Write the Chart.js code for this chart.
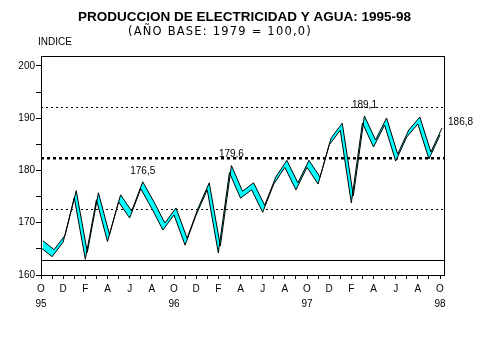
<!DOCTYPE html>
<html>
<head>
<meta charset="utf-8">
<script src="https://cdn.jsdelivr.net/npm/chart.js@4/dist/chart.umd.min.js"></script>
<style>
  html, body { margin: 0; padding: 0; background: #fff; }
  #wrap { width: 479px; height: 359px; }
</style>
</head>
<body>
<div id="wrap"><canvas id="chart" width="479" height="359"></canvas></div>
<script>
// month index 0 = Oct 1995 ... 36 = Oct 1998
const monthLabels = ['O','','D','','F','','A','','J','','A','',
                     'O','','D','','F','','A','','J','','A','',
                     'O','','D','','F','','A','','J','','A','','O'];
const yearLabels = ['95','96','97','98'];   // under each October
const values = [165.2, 163.5, 166.3, 174.8, 163.0, 174.4, 166.4, 174.0, 170.9, 176.5,
                172.7, 168.6, 171.5, 165.7, 171.5, 176.3, 164.2, 179.6, 174.7, 176.3,
                172.0, 177.4, 180.6, 176.3, 180.6, 177.4, 184.9, 187.7, 173.8, 189.1,
                184.5, 188.7, 181.8, 186.4, 188.9, 182.2, 186.8];
const labelled = [9, 17, 29, 36];
const yTicks = [160, 165, 170, 175, 180, 185, 190, 195, 200];
const wallTicks = [160, 170, 180, 190, 200];

const FONT = '"Liberation Sans", Arial, sans-serif';
Chart.defaults.font.family = FONT;
Chart.defaults.color = '#000';

const pts = values.map((v, i) => ({ x: i, y: v }));

// subtitle, "INDICE" and value labels
const textPlugin = {
  id: 'texts',
  afterDatasetsDraw(chart) {
    const c = chart.ctx;
    const xs = chart.scales.x, ys = chart.scales.y;
    c.save();
    c.fillStyle = '#000';
    c.textBaseline = 'middle';
    c.textAlign = 'center';
    c.font = '11.5px "DejaVu Sans", sans-serif';
    if ('letterSpacing' in c) c.letterSpacing = '1.2px';
    c.fillText('(AÑO BASE: 1979 = 100,0)', 220, 32);
    if ('letterSpacing' in c) c.letterSpacing = '0px';
    c.font = '10px ' + FONT;
    c.textAlign = 'left';
    c.fillText('INDICE', 38, 42);
    labelled.forEach(i => {
      const txt = values[i].toFixed(1).replace('.', ',');
      const px = xs.getPixelForValue(i), py = ys.getPixelForValue(values[i]);
      if (i === values.length - 1) {
        c.textAlign = 'left';
        c.fillText(txt, px + 8, py - 13);
      } else {
        c.textAlign = 'center';
        c.fillText(txt, px + 2, py - 18);
      }
    });
    c.restore();
  }
};

new Chart(document.getElementById('chart'), {
  type: 'line',
  data: {
    datasets: [
      {
        label: 'back',
        data: pts,
        xAxisID: 'xr',
        yAxisID: 'yr',
        borderColor: '#000',
        borderWidth: 1,
        pointRadius: 0,
        tension: 0,
        fill: false
      },
      {
        label: 'front',
        data: pts,
        xAxisID: 'x',
        yAxisID: 'y',
        borderColor: '#000',
        borderWidth: 1,
        pointRadius: 0,
        tension: 0,
        fill: '-1',
        backgroundColor: '#00ffff'
      }
    ]
  },
  options: {
    responsive: false,
    animation: false,
    layout: { padding: { left: 10, right: 0, top: 0, bottom: 0 } },
    plugins: {
      legend: { display: false },
      tooltip: { enabled: false },
      title: {
        display: true,
        text: 'PRODUCCION DE ELECTRICIDAD Y AGUA: 1995-98',
        font: { size: 13.5, weight: 'bold', lineHeight: 1.2 },
        color: '#000',
        padding: { top: 9, bottom: 30.8 }
      }
    },
    scales: {
      x: {
        type: 'linear',
        position: 'bottom',
        min: 0,
        max: 36.36,
        afterBuildTicks: s => { s.ticks = monthLabels.map((l, i) => ({ value: i })); },
        afterFit: s => { s.height = 84; },
        grid: { drawOnChartArea: false, tickLength: 4, color: '#000' },
        border: { color: '#000', width: 1 },
        ticks: {
          autoSkip: false,
          maxRotation: 0,
          padding: 3,
          font: { size: 10, lineHeight: 1.45 },
          callback: (v) => {
            const l = monthLabels[v];
            if (v % 12 === 0) return [l, yearLabels[v / 12]];
            return l;
          }
        }
      },
      // top edge of the box
      xt: {
        type: 'linear',
        position: 'top',
        min: 0,
        max: 36.36,
        afterFit: s => { s.height = 0; },
        ticks: { display: false },
        grid: { display: false },
        border: { display: true, color: '#000', width: 1 }
      },
      y: {
        type: 'linear',
        position: 'left',
        min: 160,
        max: 201.91,
        afterBuildTicks: s => { s.ticks = yTicks.map(v => ({ value: v })); },
        afterFit: s => { s.width = 31; },
        grid: { drawOnChartArea: false, tickLength: 5, color: '#000' },
        border: { color: '#000', width: 1 },
        ticks: {
          padding: 1,
          font: { size: 10 },
          callback: v => (v % 10 === 0 ? String(v) : '')
        }
      },
      // back wall of the 3D box: grid lines + right edge
      yb: {
        type: 'linear',
        position: 'right',
        min: 157.06,
        max: 200,
        afterBuildTicks: s => { s.ticks = wallTicks.map(v => ({ value: v })); },
        afterFit: s => { s.width = 35; },
        ticks: { display: false },
        grid: {
          drawTicks: false,
          color: '#000',
          lineWidth: c => (c.tick && c.tick.value === 180 ? 2.5 : 1)
        },
        border: {
          display: true,
          color: '#000',
          width: 1,
          dash: c => {
            if (!c.tick) return [];
            const v = c.tick.value;
            if (v === 180) return [3, 3];
            if (v === 170 || v === 190) return [2, 3];
            return [];
          }
        }
      },
      // depth offset of the ribbon
      xr: { type: 'linear', display: false, min: -0.18, max: 36.18 },
      yr: { type: 'linear', display: false, min: 158.66, max: 200.57 }
    }
  },
  plugins: [textPlugin]
});
</script>
</body>
</html>
